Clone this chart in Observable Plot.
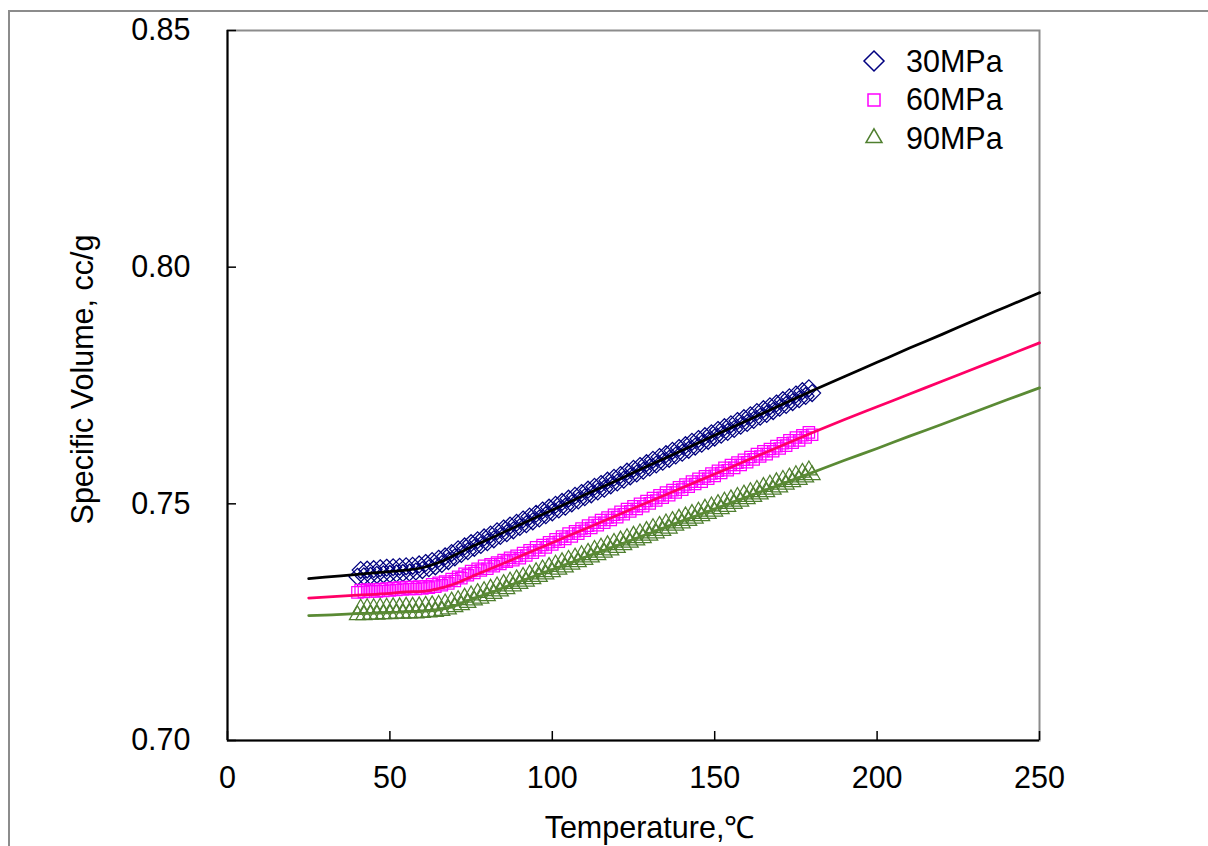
<!DOCTYPE html>
<html>
<head>
<meta charset="utf-8">
<script src="https://cdn.jsdelivr.net/npm/d3@7"></script>
<script src="https://cdn.jsdelivr.net/npm/@observablehq/plot@0.6"></script>
<style>
html, body { margin: 0; padding: 0; background: #fff; overflow: hidden; }
#wrap { position: relative; width: 1208px; height: 846px; font-family: "Liberation Sans", Arial, sans-serif; }
#border { position: absolute; left: 8px; top: 10px; width: 1260px; height: 900px; border: 2px solid #8c8c8c; box-sizing: border-box; }
#chart { position: absolute; left: 0; top: 0; }
#legend { position: absolute; left: 858px; top: 42px; font-size: 30.5px; color: #000; }
.row { position: relative; height: 38.5px; display: flex; align-items: center; }
.row svg { width: 32px; height: 32px; overflow: visible; }
.row span { margin-left: 16px; }
</style>
</head>
<body>
<div id="wrap">
  <div id="border"></div>
  <div id="chart"></div>
  <div id="legend"></div>
</div>
<script>
// ---- data ----
const seriesNames = ["30MPa", "60MPa", "90MPa"];
const xTicks = [0, 50, 100, 150, 200, 250];
const yTicks = [0.70, 0.75, 0.80, 0.85];

const tEven = [40,42,44,46,48,50,52,54,56,58,60,62,64,66,68,70,72,74,76,78,80,82,84,86,88,90,92,94,96,98,100,102,104,106,108,110,112,114,116,118,120,122,124,126,128,130,132,134,136,138,140,142,144,146,148,150,152,154,156,158,160,162,164,166,168,170,172,174,176,178,180];
const tOdd = [41,43,45,47,49,51,53,55,57,59,61,63,65,67,69,71,73,75,77,79,81,83,85,87,89,91,93,95,97,99,101,103,105,107,109,111,113,115,117,119,121,123,125,127,129,131,133,135,137,139,141,143,145,147,149,151,153,155,157,159,161,163,165,167,169,171,173,175,177,179];

const v30Even = [0.7346,0.7347,0.7348,0.7350,0.7351,0.7352,0.7353,0.7354,0.7355,0.7357,
 0.7360,0.7364,0.7368,0.7373,0.7379,0.7387,0.7394,0.7400,0.7407,0.7413,
 0.7419,0.7425,0.7432,0.7438,0.7444,0.7451,0.7457,0.7463,0.7469,0.7476,
 0.7482,0.7488,0.7494,0.7501,0.7507,0.7514,0.7520,0.7526,0.7532,0.7539,
 0.7545,0.7551,0.7558,0.7564,0.7570,0.7577,0.7583,0.7589,0.7595,0.7602,
 0.7608,0.7614,0.7621,0.7627,0.7633,0.7640,0.7646,0.7652,0.7658,0.7665,
 0.7671,0.7677,0.7684,0.7690,0.7696,0.7703,0.7709,0.7715,0.7721,0.7728,
 0.7734];
const v30Odd = [0.7360,0.7361,0.7362,0.7364,0.7365,0.7366,0.7367,0.7368,0.7369,0.7372,
 0.7375,0.7379,0.7384,0.7389,0.7396,0.7404,0.7410,0.7417,0.7423,0.7429,
 0.7435,0.7442,0.7448,0.7454,0.7460,0.7467,0.7473,0.7479,0.7486,0.7492,
 0.7498,0.7504,0.7511,0.7517,0.7523,0.7530,0.7536,0.7542,0.7549,0.7555,
 0.7561,0.7568,0.7574,0.7580,0.7586,0.7593,0.7599,0.7605,0.7612,0.7618,
 0.7624,0.7631,0.7637,0.7643,0.7649,0.7656,0.7662,0.7668,0.7675,0.7681,
 0.7687,0.7694,0.7700,0.7706,0.7712,0.7719,0.7725,0.7731,0.7738,0.7744];

const v60Even = [0.7313,0.7314,0.7315,0.7315,0.7316,0.7317,0.7318,0.7319,0.7320,0.7320,
 0.7321,0.7323,0.7325,0.7328,0.7332,0.7337,0.7343,0.7349,0.7354,0.7359,
 0.7363,0.7368,0.7373,0.7378,0.7381,0.7385,0.7391,0.7397,0.7402,0.7408,
 0.7414,0.7420,0.7426,0.7431,0.7437,0.7443,0.7449,0.7455,0.7460,0.7466,
 0.7472,0.7478,0.7484,0.7489,0.7495,0.7501,0.7507,0.7513,0.7518,0.7524,
 0.7530,0.7536,0.7542,0.7547,0.7553,0.7559,0.7565,0.7571,0.7576,0.7582,
 0.7588,0.7594,0.7600,0.7605,0.7611,0.7617,0.7623,0.7629,0.7634,0.7640,
 0.7646];
const v60Odd = [0.7318,0.7319,0.7319,0.7320,0.7321,0.7322,0.7323,0.7324,0.7324,0.7325,
 0.7326,0.7330,0.7333,0.7336,0.7341,0.7346,0.7352,0.7358,0.7363,0.7369,
 0.7372,0.7376,0.7381,0.7386,0.7390,0.7396,0.7402,0.7408,0.7413,0.7419,
 0.7425,0.7431,0.7437,0.7442,0.7448,0.7454,0.7460,0.7466,0.7471,0.7477,
 0.7483,0.7489,0.7495,0.7500,0.7506,0.7512,0.7518,0.7524,0.7529,0.7535,
 0.7541,0.7547,0.7553,0.7558,0.7564,0.7570,0.7576,0.7582,0.7587,0.7593,
 0.7599,0.7605,0.7611,0.7616,0.7622,0.7628,0.7634,0.7640,0.7645,0.7651];

const v90Even = [0.7265,0.7265,0.7266,0.7266,0.7267,0.7267,0.7268,0.7268,0.7269,0.7269,
 0.7270,0.7271,0.7272,0.7274,0.7277,0.7282,0.7286,0.7291,0.7296,0.7300,
 0.7305,0.7310,0.7315,0.7320,0.7326,0.7331,0.7336,0.7341,0.7346,0.7351,
 0.7356,0.7361,0.7366,0.7372,0.7377,0.7382,0.7387,0.7392,0.7397,0.7402,
 0.7407,0.7413,0.7418,0.7423,0.7428,0.7433,0.7438,0.7443,0.7448,0.7454,
 0.7459,0.7464,0.7469,0.7474,0.7479,0.7484,0.7489,0.7494,0.7500,0.7505,
 0.7510,0.7515,0.7520,0.7525,0.7530,0.7535,0.7541,0.7546,0.7551,0.7556,
 0.7561];
const v90Odd = [0.7279,0.7280,0.7280,0.7281,0.7281,0.7282,0.7282,0.7283,0.7283,0.7284,
 0.7285,0.7286,0.7287,0.7290,0.7294,0.7297,0.7302,0.7307,0.7312,0.7316,
 0.7321,0.7326,0.7331,0.7336,0.7341,0.7346,0.7351,0.7356,0.7362,0.7367,
 0.7372,0.7377,0.7382,0.7387,0.7392,0.7397,0.7403,0.7408,0.7413,0.7418,
 0.7423,0.7428,0.7433,0.7438,0.7443,0.7449,0.7454,0.7459,0.7464,0.7469,
 0.7474,0.7479,0.7484,0.7490,0.7495,0.7500,0.7505,0.7510,0.7515,0.7520,
 0.7525,0.7530,0.7536,0.7541,0.7546,0.7551,0.7556,0.7561,0.7566,0.7571];

const fitT = [25,30,40,50,55,60,65,70,75,80,90,100,110,120,130,140,150,160,170,180,190,200,210,220,230,240,250];
const fit30 = [0.7342,0.7345,0.7351,0.7357,0.7360,0.7365,0.7376,0.7392,0.7409,0.7424,0.7456,0.7487,0.7519,0.7550,0.7582,0.7613,0.7645,0.7676,0.7708,0.7739,0.7769,0.7799,0.7829,0.7858,0.7888,0.7917,0.7946];
const fit60 = [0.7301,0.7303,0.7307,0.7311,0.7314,0.7315,0.7321,0.7331,0.7346,0.7360,0.7389,0.7418,0.7447,0.7476,0.7505,0.7534,0.7563,0.7592,0.7621,0.7650,0.7678,0.7705,0.7732,0.7759,0.7786,0.7813,0.7840];
const fit90 = [0.7264,0.7265,0.7268,0.7270,0.7272,0.7273,0.7276,0.7285,0.7298,0.7310,0.7336,0.7361,0.7387,0.7412,0.7438,0.7464,0.7489,0.7515,0.7540,0.7566,0.7592,0.7617,0.7643,0.7668,0.7694,0.7720,0.7745];

// ---- styles ----
const symbols = ["diamond2", "square", "triangle2"];
const markerColors = ["#000080", "#ff00ff", "#4f7f2f"];
const markerR = [7.6, 6.4, 7.6];
const lineColors = ["#000000", "#ff0066", "#5a8a34"];

// ---- build tables ----
const evens = [v30Even, v60Even, v90Even];
const odds = [v30Odd, v60Odd, v90Odd];
const fits = [fit30, fit60, fit90];

const pointSets = seriesNames.map((name, k) => {
  const pts = [];
  tEven.forEach((t, i) => pts.push({T: t, v: evens[k][i], s: name}));
  tOdd.forEach((t, i) => pts.push({T: t, v: odds[k][i], s: name}));
  return pts.sort((a, b) => a.T - b.T);
});
const fitSets = seriesNames.map((name, k) => fitT.map((t, i) => ({T: t, v: fits[k][i], s: name})));

const font = '"Liberation Sans", Arial, sans-serif';

const chart = Plot.plot({
  width: 1208,
  height: 846,
  marginLeft: 227,
  marginRight: 169,
  marginTop: 30,
  marginBottom: 106,
  x: {domain: [0, 250], ticks: xTicks},
  y: {domain: [0.70, 0.85], ticks: yTicks, tickFormat: d3.format(".2f")},
  style: {fontFamily: font, fontSize: "30.5px", color: "#000", background: "transparent", overflow: "visible"},
  marks: [
    Plot.frame({stroke: "#8c8c8c", strokeWidth: 2}),
    Plot.ruleX([0], {stroke: "#000", strokeWidth: 2}),
    Plot.ruleY([0.70], {stroke: "#000", strokeWidth: 2}),
    Plot.axisX({ticks: xTicks, tickSize: -9, tickPadding: 35, label: null, strokeWidth: 1.5}),
    Plot.axisY({ticks: yTicks, tickFormat: d3.format(".2f"), tickSize: -9, tickPadding: 46, label: null, strokeWidth: 1.5}),
    ...pointSets.map((pts, k) => Plot.dot(pts, {
      x: "T", y: "v", symbol: () => symbols[k], r: markerR[k],
      stroke: markerColors[k], strokeWidth: 1.25, fill: "none"
    })),
    ...fitSets.map((pts, k) => Plot.line(pts, {
      x: "T", y: "v", stroke: lineColors[k], strokeWidth: 2.75, curve: "monotone-x"
    })),
    Plot.text(["Temperature,℃"], {frameAnchor: "bottom", dy: 97, dx: 16, lineAnchor: "bottom", textAnchor: "middle", fontSize: 30.5, fill: "#000"}),
    Plot.text(["Specific Volume, cc/g"], {frameAnchor: "left", dx: -156, dy: -6, rotate: -90, lineAnchor: "top", textAnchor: "middle", fontSize: 30.5, fill: "#000"})
  ]
});
document.getElementById("chart").appendChild(chart);

// ---- legend ----
const legendSizes = [255, 144, 183];
const legendSym = [d3.symbolDiamond2, d3.symbolSquare, d3.symbolTriangle2];
const legend = d3.select("#legend");
seriesNames.forEach((name, k) => {
  const row = legend.append("div").attr("class", "row");
  const svg = row.append("svg").attr("viewBox", "-16 -16 32 32");
  svg.append("path")
    .attr("d", d3.symbol(legendSym[k], legendSizes[k])())
    .attr("fill", "none")
    .attr("stroke", markerColors[k])
    .attr("stroke-width", 1.5);
  row.append("span").text(name);
});
</script>
</body>
</html>
